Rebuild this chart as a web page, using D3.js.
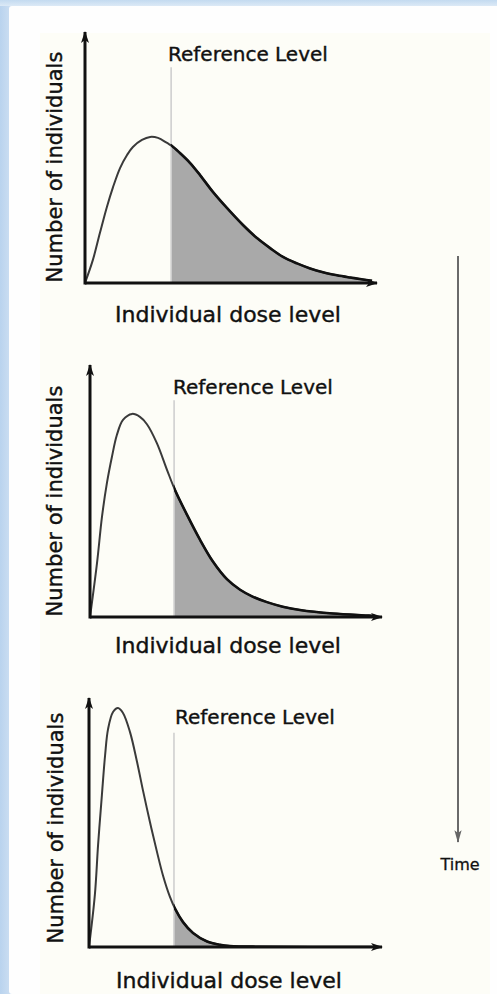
<!DOCTYPE html>
<html>
    <head>
        <meta http-equiv="Content-Type" content="text/html; charset=UTF-8">
        <script src="https://d3js.org/d3.v7.min.js"></script>
        <style>
            html, body {
                margin: 0;
                padding: 0;
                background-color: #ffffff;
            }
            svg {
                display: block;
                font-family: 'DejaVu Sans', sans-serif;
            }
        </style>
        <title>Dose distribution over time</title>
    </head>
    <body>
        <script>
            var ww = 497;
            var hh = 994;

            // dose on x (0..100 = length of the axis), number of individuals on y (0..100)
            var curve1 = [[0, 0], [2.7, 9.2], [5.1, 19.9], [7.5, 30.3], [9.6, 38.2], [12, 45.8], [14.4, 51], [16.4, 54.2],
                [19.5, 57], [22.3, 58.2], [25, 57.8], [28.1, 55.8], [29.8, 54.6], [32.5, 51.8], [36, 47.8], [39.4, 43],
                [43.8, 36.3], [48.6, 29.9], [54.1, 23.1], [58.9, 17.9], [63.4, 13.9], [67.8, 10.4], [72.6, 7.8],
                [77.1, 5.8], [81.5, 4.3], [86.3, 3.1], [90.8, 2.2], [95.2, 1.4], [98.3, 0.9]];
            var curve2 = [[0, 0], [2.4, 21.4], [4.1, 39.7], [5.8, 53.2], [7.5, 63.5], [9.2, 72.2], [11.3, 78.2],
                [14.4, 80.6], [17.1, 79.4], [19.5, 76.5], [22.9, 69], [26.4, 58.3], [29.1, 50.4], [33.2, 40.6],
                [37.7, 30.6], [42.1, 22], [46.9, 15], [51.4, 10.8], [55.5, 8.2], [60.6, 5.9], [66, 4.1], [71.9, 2.8],
                [83.2, 1.4], [94.9, 0.6], [97.6, 0.4]];
            var curve3 = [[0, 0], [2, 20.9], [3.1, 41], [4.4, 61], [5.5, 77.1], [6.5, 87.5], [8.2, 94.4], [9.9, 96],
                [11.6, 94], [14, 86.3], [16.4, 74.3], [18.4, 63], [20.8, 50.2], [23.2, 38.2], [25.3, 28.5],
                [27.6, 20.2], [29.4, 15.3], [32.1, 10], [35.5, 5.6], [40.3, 2.2], [44.7, 0.9], [48.1, 0.4],
                [58, 0.1], [97, 0]];
            var curves = [curve1, curve2, curve3];
            var referenceLevels = [29.5, 28.8, 29.0];
            var referenceTop = 86;

            var xLabel = "Individual dose level";
            var yLabel = "Number of individuals";
            var refLabel = "Reference Level";
            var timeLabel = "Time";

            // where each small chart sits on the page
            var panels = [
                {left: 85, bottom: 283, width: 292, height: 251, refText: [168, 61], xText: [228, 322], yText: [62, 167]},
                {left: 90, bottom: 617, width: 292, height: 252, refText: [173, 394], xText: [228, 653], yText: [62, 501]},
                {left: 89, bottom: 947, width: 293, height: 249, refText: [175, 724], xText: [229, 988], yText: [63, 828]}
            ];

            var svg = d3.select("body").append("svg").attr("width", ww).attr("height", hh);
            var defs = svg.append("defs");

            var gl = defs.append("linearGradient").attr("id", "leftBlue").attr("x1", 0).attr("x2", 1).attr("y1", 0).attr("y2", 0);
            gl.append("stop").attr("offset", "0%").attr("stop-color", "#b9d3ee");
            gl.append("stop").attr("offset", "35%").attr("stop-color", "#c8dcf1");
            gl.append("stop").attr("offset", "100%").attr("stop-color", "#f3f7fc");
            var gt = defs.append("linearGradient").attr("id", "topBlue").attr("x1", 0).attr("x2", 0).attr("y1", 0).attr("y2", 1);
            gt.append("stop").attr("offset", "0%").attr("stop-color", "#c3daf0");
            gt.append("stop").attr("offset", "100%").attr("stop-color", "#dce9f6");

            svg.append("rect").attr("width", ww).attr("height", hh).attr("fill", "#fefefe");
            svg.append("rect").attr("x", 0).attr("y", 0).attr("width", 24).attr("height", hh).attr("fill", "url(#leftBlue)");
            svg.append("rect").attr("x", 0).attr("y", 0).attr("width", ww).attr("height", 6).attr("fill", "url(#topBlue)");
            svg.append("rect").attr("x", 9).attr("y", 6).attr("width", ww - 9).attr("height", hh - 6).attr("rx", 3).attr("fill", "#fefefe");
            svg.append("rect").attr("x", 40).attr("y", 33).attr("width", 450).attr("height", hh - 33).attr("fill", "#fdfdf7");

            defs.append("marker").attr("id", "arrowBlack").attr("viewBox", "0 -5 12 10")
                .attr("refX", 11).attr("refY", 0).attr("markerWidth", 12).attr("markerHeight", 10)
                .attr("markerUnits", "userSpaceOnUse").attr("orient", "auto")
                .append("path").attr("d", "M0,-4L12,0L0,4L3,0Z").attr("fill", "#111");
            defs.append("marker").attr("id", "arrowGrey").attr("viewBox", "0 -5 14 10")
                .attr("refX", 13).attr("refY", 0).attr("markerWidth", 14).attr("markerHeight", 9)
                .attr("markerUnits", "userSpaceOnUse").attr("orient", "auto")
                .append("path").attr("d", "M0,-4L14,0L0,4L3,0Z").attr("fill", "#666");

            panels.forEach(function(p, i) {
                var x = d3.scaleLinear().domain([0, 100]).range([p.left, p.left + p.width]);
                var y = d3.scaleLinear().domain([0, 100]).range([p.bottom, p.bottom - p.height]);
                var data = curves[i];
                var g = svg.append("g");

                defs.append("clipPath").attr("id", "tail" + i).append("rect")
                    .attr("x", x(referenceLevels[i])).attr("y", y(100))
                    .attr("width", x(100) - x(referenceLevels[i])).attr("height", p.height);

                var area = d3.area().x(function(d) { return x(d[0]); })
                    .y0(y(0)).y1(function(d) { return y(d[1]); }).curve(d3.curveCatmullRom.alpha(0.5));
                var line = d3.line().x(function(d) { return x(d[0]); })
                    .y(function(d) { return y(d[1]); }).curve(d3.curveCatmullRom.alpha(0.5));

                g.append("path").datum(data).attr("d", area).attr("fill", "#a9a9a9")
                    .attr("clip-path", "url(#tail" + i + ")");

                g.append("line").attr("x1", x(referenceLevels[i])).attr("x2", x(referenceLevels[i]))
                    .attr("y1", y(referenceTop)).attr("y2", y(0))
                    .attr("stroke", "#cfcfcf").attr("stroke-width", 1.6);

                // left part of the curve is drawn lighter, the tail darker
                g.append("path").datum(data).attr("d", line).attr("fill", "none")
                    .attr("stroke", "#3a3a3a").attr("stroke-width", 2).attr("stroke-linejoin", "round");
                g.append("path").datum(data).attr("d", line).attr("fill", "none")
                    .attr("clip-path", "url(#tail" + i + ")")
                    .attr("stroke", "#111").attr("stroke-width", 2.6).attr("stroke-linejoin", "round");

                // axes: plain lines with arrow heads, no ticks
                g.append("line").attr("x1", x(0)).attr("x2", x(100)).attr("y1", y(0)).attr("y2", y(0))
                    .attr("stroke", "#111").attr("stroke-width", 3).attr("marker-end", "url(#arrowBlack)");
                g.append("line").attr("x1", x(0)).attr("x2", x(0)).attr("y1", y(0) + 1.5).attr("y2", y(100))
                    .attr("stroke", "#111").attr("stroke-width", 3).attr("marker-end", "url(#arrowBlack)");

                g.append("text").attr("x", p.refText[0]).attr("y", p.refText[1])
                    .attr("font-size", 20).attr("fill", "#111").attr("stroke", "#111").attr("stroke-width", 0.4)
                    .text(refLabel);
                g.append("text").attr("x", p.xText[0]).attr("y", p.xText[1]).attr("text-anchor", "middle")
                    .attr("font-size", 22).attr("fill", "#111").attr("stroke", "#111").attr("stroke-width", 0.4)
                    .text(xLabel);
                g.append("text").attr("transform", "translate(" + p.yText[0] + "," + p.yText[1] + ") rotate(-90)")
                    .attr("text-anchor", "middle").attr("font-size", 21).attr("fill", "#111")
                    .attr("stroke", "#111").attr("stroke-width", 0.4).text(yLabel);
            });

            // time arrow on the right
            svg.append("line").attr("x1", 458).attr("x2", 458).attr("y1", 256).attr("y2", 842)
                .attr("stroke", "#6a6a6a").attr("stroke-width", 2).attr("marker-end", "url(#arrowGrey)");
            svg.append("text").attr("x", 460).attr("y", 870).attr("text-anchor", "middle")
                .attr("font-size", 16).attr("fill", "#111").attr("stroke", "#111").attr("stroke-width", 0.3)
                .text(timeLabel);
        </script>
    </body>
</html>
